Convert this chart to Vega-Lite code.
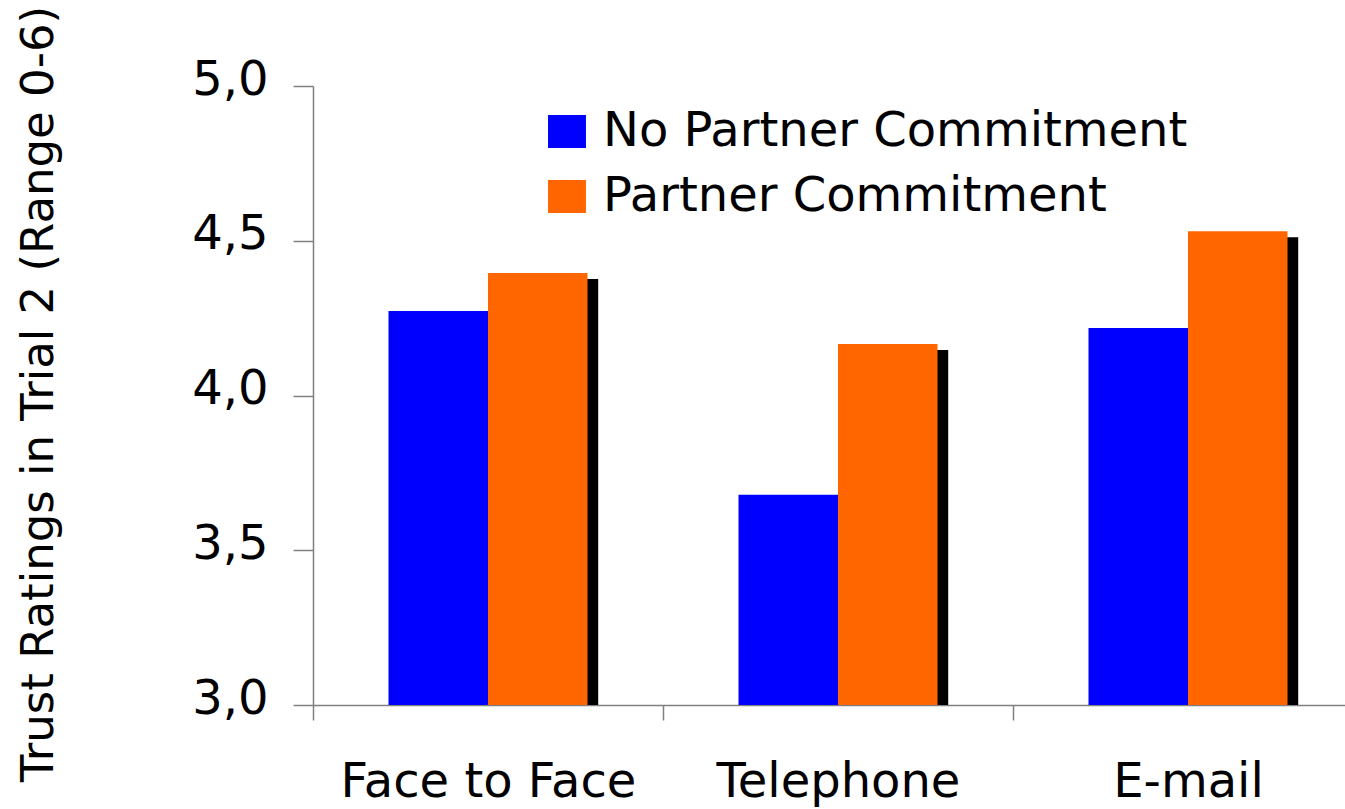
{
  "$schema": "https://vega.github.io/schema/vega-lite/v6.json",
  "width": 1032,
  "height": 619,
  "autosize": {"type": "none"},
  "padding": {"left": 313, "top": 86, "right": 0, "bottom": 104},
  "background": "white",
  "config": {"view": {"stroke": null}, "font": "DejaVu Sans"},
  "data": {
    "values": [
      {"mode": "Face to Face", "condition": "No Partner Commitment", "value": 4.273},
      {"mode": "Face to Face", "condition": "Partner Commitment", "value": 4.396},
      {"mode": "Telephone", "condition": "No Partner Commitment", "value": 3.679},
      {"mode": "Telephone", "condition": "Partner Commitment", "value": 4.166},
      {"mode": "E-mail", "condition": "No Partner Commitment", "value": 4.218},
      {"mode": "E-mail", "condition": "Partner Commitment", "value": 4.531}
    ]
  },
  "encoding": {
    "x": {
      "field": "mode",
      "type": "nominal",
      "sort": ["Face to Face", "Telephone", "E-mail"],
      "scale": {"range": [0, 1050], "paddingInner": 0, "paddingOuter": 0},
      "axis": {
        "title": null,
        "tickBand": "extent",
        "labelAngle": 0,
        "labelFontSize": 48,
        "labelPadding": 38,
        "labelLimit": 0,
        "labelColor": "black",
        "tickSize": 15,
        "tickColor": "#808080",
        "domainColor": "#808080",
        "tickWidth": 1.5,
        "domainWidth": 1.5
      }
    },
    "y": {
      "field": "value",
      "type": "quantitative",
      "scale": {"domain": [3, 5], "nice": false, "zero": false},
      "axis": {
        "values": [3, 3.5, 4, 4.5, 5],
        "labelExpr": "replace(format(datum.value, '.1f'), '.', ',')",
        "grid": false,
        "tickSize": 20,
        "tickColor": "#808080",
        "domainColor": "#808080",
        "tickWidth": 1.5,
        "domainWidth": 1.5,
        "labelFontSize": 48,
        "labelPadding": 25,
        "labelOffset": -6,
        "labelColor": "black",
        "title": "Trust Ratings in Trial 2 (Range 0-6)",
        "titleFontSize": 45,
        "titleFontWeight": "normal",
        "titleColor": "black",
        "titleAngle": -90,
        "titleX": -261,
        "titleY": 307.5,
        "titleAlign": "center",
        "titleBaseline": "alphabetic"
      }
    },
    "y2": {"datum": 3}
  },
  "layer": [
    {
      "mark": {"type": "bar", "color": "black", "yOffset": 6},
      "encoding": {
        "xOffset": {
          "field": "condition",
          "type": "nominal",
          "sort": ["No Partner Commitment", "Partner Commitment"],
          "scale": {"range": [86.2, 285.2], "paddingInner": 0, "paddingOuter": 0}
        }
      }
    },
    {
      "mark": {"type": "bar"},
      "encoding": {
        "xOffset": {
          "field": "condition",
          "type": "nominal",
          "sort": ["No Partner Commitment", "Partner Commitment"],
          "scale": {"range": [75.5, 274.5], "paddingInner": 0, "paddingOuter": 0}
        },
        "color": {
          "field": "condition",
          "type": "nominal",
          "scale": {"domain": ["No Partner Commitment", "Partner Commitment"], "range": ["#0000FF", "#FF6600"]},
          "legend": {
            "orient": "none",
            "legendX": 230,
            "legendY": 21.5,
            "title": null,
            "padding": 0,
            "symbolType": "M-1.15,-1L1.15,-1L1.15,1L-1.15,1Z",
            "symbolSize": 1089,
            "symbolStrokeWidth": 0,
            "labelFontSize": 48,
            "labelOffset": 12,
            "labelLimit": 0,
            "labelColor": "black",
            "rowPadding": 17
          }
        }
      }
    }
  ],
  "resolve": {"scale": {"xOffset": "independent"}}
}
